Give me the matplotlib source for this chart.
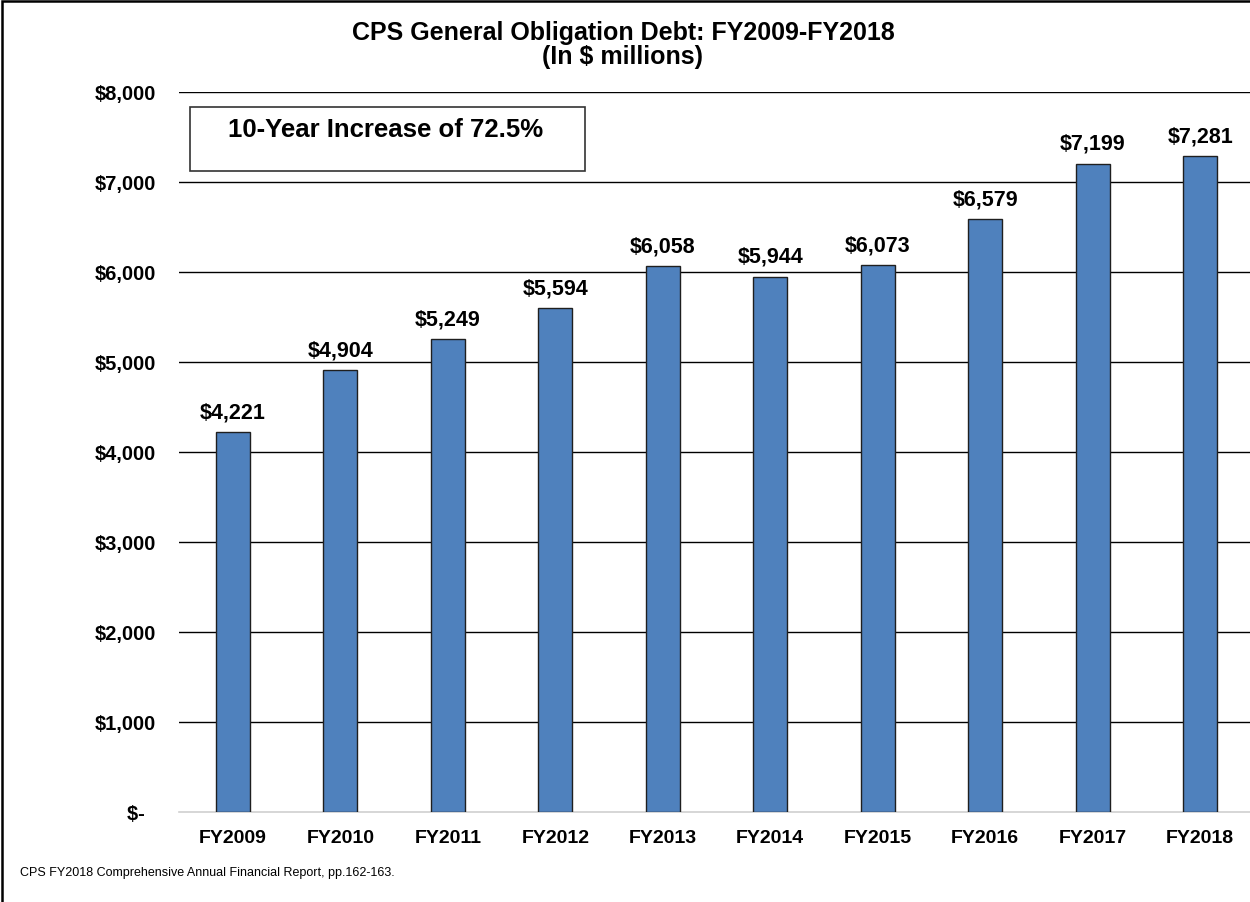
import matplotlib
matplotlib.use("Agg")
import matplotlib.pyplot as plt
from matplotlib.patches import Rectangle

categories = ["FY2009", "FY2010", "FY2011", "FY2012", "FY2013",
              "FY2014", "FY2015", "FY2016", "FY2017", "FY2018"]
values = [4221, 4904, 5249, 5594, 6058, 5944, 6073, 6579, 7199, 7281]
yticks = [0, 1000, 2000, 3000, 4000, 5000, 6000, 7000, 8000]
ytick_labels = ["$-  ", "$1,000", "$2,000", "$3,000", "$4,000",
                "$5,000", "$6,000", "$7,000", "$8,000"]
title = "CPS General Obligation Debt: FY2009-FY2018\n(In $ millions)"
callout = "10-Year Increase of 72.5%"
footnote = "CPS FY2018 Comprehensive Annual Financial Report, pp.162-163."

plt.rcParams['font.family'] = ['Liberation Sans', 'DejaVu Sans']

W, H = 1250, 903
fig = plt.figure(figsize=(W / 100, H / 100), dpi=100)

# axes: left 179px, right ~1254px; y 0 at 813px, 8000 at 92.5px
left, right = 179, 1254
y0, y8 = 813, 92.5
ax = fig.add_axes([left / W, 1 - y0 / H, (right - left) / W, (y0 - y8) / H])

x = list(range(len(categories)))
ax.bar(x, values, width=0.32, color="#4F81BD", edgecolor="#1f1f1f",
       linewidth=1.0, zorder=3)
ax.set_xlim(-0.5, len(categories) - 0.5)
ax.set_ylim(0, 8000)
ax.set_yticks(yticks)
ax.set_yticklabels(ytick_labels, fontsize=14.5, fontweight='bold')
ax.set_xticks(x)
ax.set_xticklabels(categories, fontsize=14, fontweight='bold')
ax.tick_params(axis='both', length=0)
ax.tick_params(axis='y', pad=16.5)
ax.tick_params(axis='x', pad=12)
for t in yticks[1:]:
    ax.axhline(t, color="black", linewidth=1.0, zorder=1)
for s in ["top", "right", "left"]:
    ax.spines[s].set_visible(False)
ax.spines["bottom"].set_color("#d0d0d0")
ax.spines["bottom"].set_linewidth(1.2)

for xi, v in zip(x, values):
    ax.annotate(f"${v:,}", (xi, v), xytext=(0, 7), textcoords="offset points",
                ha="center", va="bottom", fontsize=15.5, fontweight='bold')

fig.text(623 / W, 1 - 45 / H, title, ha="center", va="center",
         fontsize=18, fontweight='bold', linespacing=1.05)

# callout box
fig.patches.append(Rectangle((190 / W, 1 - 172 / H), (585 - 190) / W, (172 - 108) / H,
                             transform=fig.transFigure, fill=False,
                             edgecolor="#333333", linewidth=1.2))
fig.text(228 / W, 1 - 130 / H, callout, ha="left", va="center",
         fontsize=18.5, fontweight='bold')

fig.text(20 / W, 1 - 873 / H, footnote, ha="left", va="center", fontsize=9)

# outer border (right/bottom edges cut off)
fig.patches.append(Rectangle((2 / W, -0.05), 1.1, 1 - 2 / H + 0.05,
                             transform=fig.transFigure, fill=False,
                             edgecolor="black", linewidth=1.8))

fig.savefig("out.png", dpi=100)
